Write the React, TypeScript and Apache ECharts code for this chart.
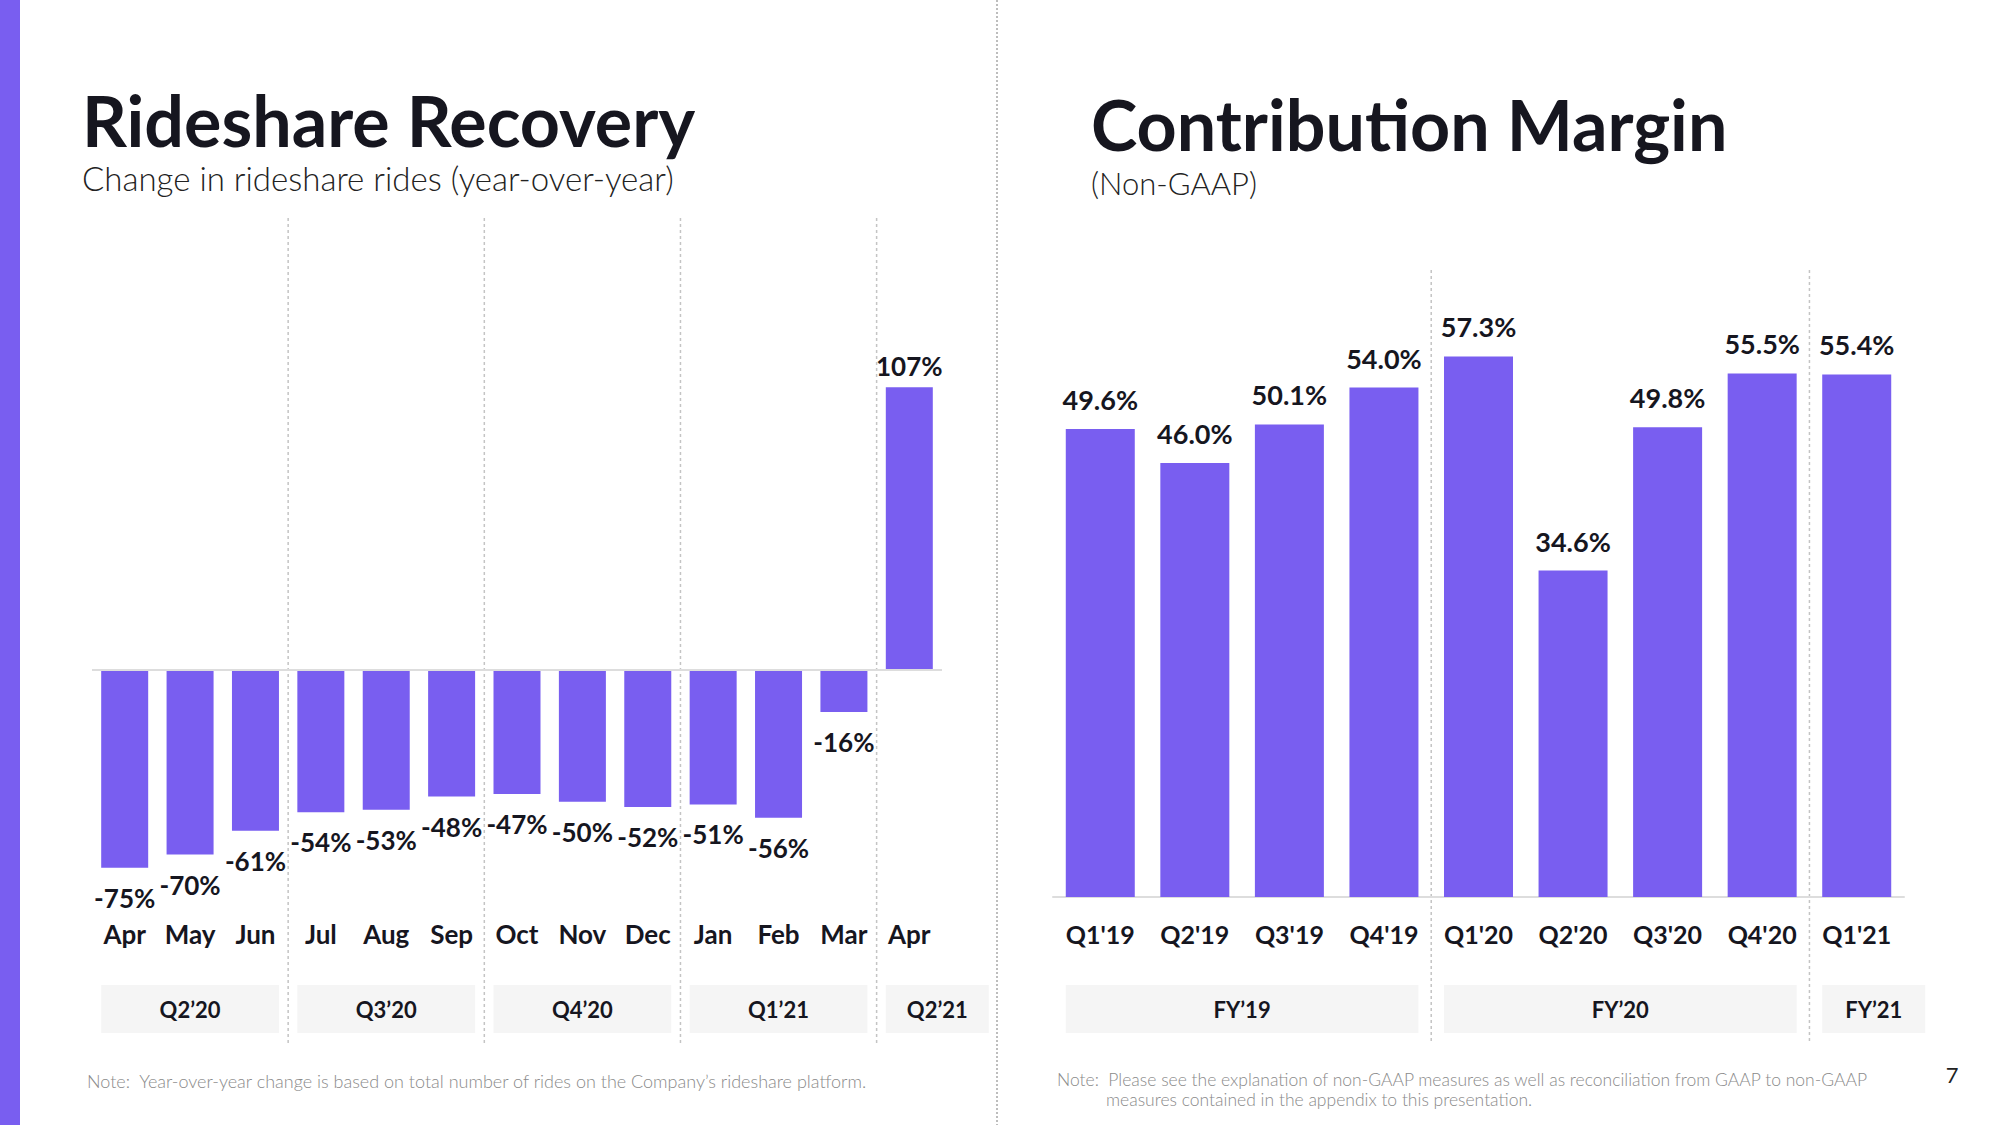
import React, { useEffect, useRef } from "react";
import * as echarts from "echarts";

const monthCategories = ["Apr", "May", "Jun", "Jul", "Aug", "Sep", "Oct", "Nov", "Dec", "Jan", "Feb", "Mar", "Apr"];
const rideshareChange = [-75, -70, -61, -54, -53, -48, -47, -50, -52, -51, -56, -16, 107];
const quarterLabels = ["Q2\u201920", "Q3\u201920", "Q4\u201920", "Q1\u201921", "Q2\u201921"];
const quarterSpans = [3, 3, 3, 3, 1];

const quarterCategories = ["Q1'19", "Q2'19", "Q3'19", "Q4'19", "Q1'20", "Q2'20", "Q3'20", "Q4'20", "Q1'21"];
const contributionMargin = [49.6, 46.0, 50.1, 54.0, 57.3, 34.6, 49.8, 55.5, 55.4];
const fyLabels = ["FY\u201919", "FY\u201920", "FY\u201921"];
const fySpans = [4, 4, 1];

const PURPLE = "#795EF0";
const DARK = "#16161F";
const FONT = "Lato, 'Open Sans', sans-serif";
const LEFT_BAR_W = 47;
const RIGHT_BAR_W = 69;

export default function App() {
  const ref = useRef<HTMLDivElement>(null);

  useEffect(() => {
    if (!ref.current) return;
    const chart = echarts.init(ref.current, null, { renderer: "svg" });

    const leftData = rideshareChange.map((v) => ({
      value: v,
      label: { position: v < 0 ? "bottom" : "top", distance: v < 0 ? 17 : 8 },
    }));

    chart.setOption({
      animation: false,
      backgroundColor: "#ffffff",
      textStyle: { fontFamily: FONT },
      grid: [
        { left: 92, top: 353, width: 850, height: 528 },
        { left: 1053, top: 331, width: 851, height: 566 },
      ],
      xAxis: [
        {
          type: "category",
          gridIndex: 0,
          data: monthCategories,
          axisLine: { show: false, onZero: false },
          axisTick: { show: false },
          axisLabel: {
            interval: 0,
            hideOverlap: false,
            margin: 40,
            fontSize: 26,
            fontWeight: "bold",
            color: DARK,
            fontFamily: FONT,
          },
        },
        {
          type: "category",
          gridIndex: 1,
          data: quarterCategories,
          axisLine: { show: true, lineStyle: { color: "#dddddd", width: 2 } },
          axisTick: { show: false },
          axisLabel: {
            interval: 0,
            hideOverlap: false,
            margin: 24,
            fontSize: 25,
            fontWeight: "bold",
            color: DARK,
            fontFamily: FONT,
          },
        },
      ],
      yAxis: [
        { type: "value", gridIndex: 0, min: -80, max: 120, interval: 40, show: false, splitLine: { show: false } },
        { type: "value", gridIndex: 1, min: 0, max: 60, interval: 20, show: false, splitLine: { show: false } },
      ],
      series: [
        {
          type: "bar",
          xAxisIndex: 0,
          yAxisIndex: 0,
          data: leftData,
          barWidth: LEFT_BAR_W,
          itemStyle: { color: PURPLE },
          label: {
            show: true,
            formatter: (p: any) => p.value + "%",
            fontSize: 26,
            fontWeight: "bold",
            color: DARK,
            fontFamily: FONT,
          },
          markLine: {
            silent: true,
            symbol: "none",
            label: { show: false },
            lineStyle: { color: "#dddddd", width: 2, type: "solid" },
            data: [{ yAxis: 0 }],
          },
        },
        {
          type: "bar",
          xAxisIndex: 1,
          yAxisIndex: 1,
          data: contributionMargin,
          barWidth: RIGHT_BAR_W,
          itemStyle: { color: PURPLE },
          label: {
            show: true,
            position: "top",
            distance: 16,
            formatter: (p: any) => Number(p.value).toFixed(1) + "%",
            fontSize: 27,
            fontWeight: "bold",
            color: DARK,
            fontFamily: FONT,
          },
        },
      ],
    });

    const px = (axis: number, idx: number) => chart.convertToPixel({ xAxisIndex: axis }, idx) as number;

    const graphics: any[] = [];
    graphics.push({ type: "rect", shape: { x: 0, y: 0, width: 20, height: 1125 }, style: { fill: PURPLE }, z: 10 });
    graphics.push({
      type: "line",
      shape: { x1: 997, y1: 0, x2: 997, y2: 1125 },
      style: { stroke: "#bdbdbd", lineWidth: 2, lineDash: [2, 2] },
    });
    const text = (t: string, x: number, y: number, size: number, weight: any, color: string, align = "left") => ({
      type: "text",
      x,
      y,
      style: { text: t, fontSize: size, fontWeight: weight, fill: color, fontFamily: FONT, align, verticalAlign: "middle" },
    });
    graphics.push(text("Rideshare Recovery", 82, 120, 70, "bold", DARK));
    graphics.push(text("Change in rideshare rides (year-over-year)", 82, 178, 33, 300, "#222222"));
    graphics.push(text("Contribution Margin", 1091, 124, 70, "bold", DARK));
    graphics.push(text("(Non-GAAP)", 1091, 183, 31, 300, "#222222"));

    const addGroups = (axis: number, labels: string[], spans: number[], barW: number, topY: number) => {
      let start = 0;
      labels.forEach((lab, gi) => {
        const end = start + spans[gi] - 1;
        const x0 = px(axis, start) - barW / 2;
        let x1 = px(axis, end) + barW / 2;
        if (spans[gi] === 1) x1 = x0 + 103;
        graphics.push({ type: "rect", shape: { x: x0, y: 985, width: x1 - x0, height: 48 }, style: { fill: "#f5f5f5" } });
        graphics.push(text(lab, (x0 + x1) / 2, 1009, 22, "bold", DARK, "center"));
        if (gi > 0) {
          const bx = (px(axis, start - 1) + px(axis, start)) / 2;
          graphics.push({
            type: "line",
            shape: { x1: bx, y1: topY, x2: bx, y2: 1044 },
            style: { stroke: "#c4c4c4", lineWidth: 1.5, lineDash: [3, 3] },
          });
        }
        start = end + 1;
      });
    };
    addGroups(0, quarterLabels, quarterSpans, LEFT_BAR_W, 218);
    addGroups(1, fyLabels, fySpans, RIGHT_BAR_W, 270);

    graphics.push(
      text("Note:  Year-over-year change is based on total number of rides on the Company\u2019s rideshare platform.", 87, 1081, 18, 300, "#8a8a8a")
    );
    graphics.push(
      text("Note:  Please see the explanation of non-GAAP measures as well as reconciliation from GAAP to non-GAAP", 1057, 1079, 17.5, 300, "#8a8a8a")
    );
    graphics.push(text("measures contained in the appendix to this presentation.", 1106, 1099, 17.5, 300, "#8a8a8a"));
    graphics.push(text("7", 1952, 1074, 22, "normal", "#222222", "center"));

    chart.setOption({ graphic: graphics });

    return () => chart.dispose();
  }, []);

  return <div ref={ref} style={{ position: "fixed", left: 0, top: 0, width: 2000, height: 1125 }} />;
}
